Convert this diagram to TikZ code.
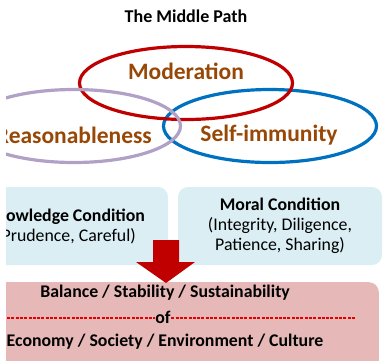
\documentclass[tikz,border=0pt]{standalone}
\usepackage{fontspec}
\setmainfont{Carlito}
\usetikzlibrary{shapes.geometric}
\definecolor{modred}{RGB}{192,0,0}
\definecolor{reaspurple}{RGB}{178,161,199}
\definecolor{selfblue}{RGB}{0,112,192}
\definecolor{wordbrown}{RGB}{152,72,6}
\definecolor{condblue}{RGB}{218,238,243}
\definecolor{resultpink}{RGB}{230,185,184}
\tikzset{
  ring/.style={ellipse, minimum width=213, minimum height=73, line width=3.2pt, inner sep=0},
  ringword/.style={text=wordbrown, font=\fontsize{23.5}{27}\selectfont\bfseries, inner sep=0},
  condbox/.style={fill=condblue, rounded corners=10pt, minimum width=204, minimum height=78, align=center, inner sep=0, font=\fontsize{17.8}{20}\selectfont},
  resultword/.style={font=\fontsize{17.8}{20}\selectfont\bfseries, inner sep=0}
}
\begin{document}
\begin{tikzpicture}[x=1pt, y=-1pt]
      \useasboundingbox (0,0) rectangle (383,360);
      \fill[white] (0,0) rectangle (383,360);
      \clip (6,0) rectangle (383,360);
            \node[font=\fontsize{18}{21}\selectfont\bfseries, inner sep=0] (title) at (186,16) {The Middle Path};
            % the three rings
            \node[ring, draw=selfblue] (selfring) at (270,126) {};
            \node[ring, draw=modred] (modring) at (186,83) {};
            \node[ring, draw=reaspurple] (reasring) at (74,126) {};
            \node[ringword] (moderation) at (186,71) {Moderation};
            \node[ringword, anchor=east] (reasonableness) at (152,135) {Reasonableness};
            \node[ringword] (selfimmunity) at (269,135) {Self-immunity};
            % conditions
            \node[condbox] (knowledge) at (66,226) {\textbf{Knowledge Condition}\\(Prudence, Careful)};
            \node[condbox] (moral) at (280,226) {\textbf{Moral Condition}\\(Integrity, Diligence,\\Patience, Sharing)};
            % result
            \node[fill=resultpink, rounded corners=10pt, minimum width=428, minimum height=95, anchor=north east, inner sep=0] (result) at (379,282) {};
            \fill[modred] (153,240) -- (179,240) -- (179,262) -- (195,262) -- (166,283) -- (136,262) -- (153,262) -- cycle;
            \node[resultword] (balance) at (165,293) {Balance / Stability / Sustainability};
            \node[resultword, inner xsep=0.5pt] (of) at (163,317) {of};
            \node[resultword] (economy) at (165,342) {Economy / Society / Environment / Culture};
            \coordinate (dashleft) at (7,318);
            \coordinate (dashright) at (355,318);
            \draw[red!90!black, line width=1.2pt, dash pattern=on 3pt off 1.3pt] (dashleft) -- (dashleft -| of.west);
            \draw[red!90!black, line width=1.2pt, dash pattern=on 3pt off 1.3pt] (dashright -| of.east) -- (dashright);
      \end{tikzpicture}
\end{document}
